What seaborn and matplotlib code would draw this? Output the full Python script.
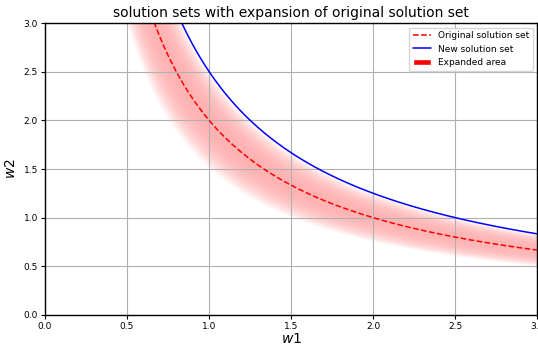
import numpy as np
import matplotlib
matplotlib.use("Agg")
import matplotlib.pyplot as plt
import seaborn as sns
from matplotlib.patches import Patch
from matplotlib.lines import Line2D

# solution sets: w1 * w2 = c
c_original = 2.0
c_new = 2.5
band_low, band_high = 1.5, 2.5   # range of c covered by the expanded area
w1 = np.linspace(0.05, 3.0, 600)

sns.set_style("white")
plt.rcParams['font.family'] = ['DejaVu Sans']
plt.rcParams.update({'text.color': 'black', 'axes.labelcolor': 'black',
                     'xtick.color': 'black', 'ytick.color': 'black'})

fig = plt.figure(figsize=(5.38, 3.46), dpi=100)
ax = fig.add_axes([0.0836, 0.0896, 0.9154, 0.8439])

# expanded area as a faded band (many thin strips)
n_strips = 80
edges = np.linspace(band_low, band_high, n_strips + 1)
half = (band_high - band_low) / 2
for lo, hi in zip(edges[:-1], edges[1:]):
    mid = (lo + hi) / 2
    d = abs(mid - c_original) / half
    a = 0.32 * (1 - d ** 2.5) if d < 1 else 0
    ax.fill_between(w1, lo / w1, hi / w1, color='red', alpha=a, linewidth=0, zorder=1)

sns.lineplot(x=w1, y=c_original / w1, ax=ax, color='red', linestyle='--', linewidth=1.1, zorder=3)
sns.lineplot(x=w1, y=c_new / w1, ax=ax, color='blue', linewidth=1.1, zorder=3)

ax.set_xlim(0, 3)
ax.set_ylim(0, 3)
ax.set_xticks(np.arange(0, 3.01, 0.5))
ax.set_yticks(np.arange(0, 3.01, 0.5))
ax.grid(True, color='#b0b0b0', linewidth=0.8)
ax.set_axisbelow('line')
for s in ax.spines.values():
    s.set_color('black')
    s.set_linewidth(1.0)
    s.set_zorder(4)
ax.tick_params(axis='both', labelsize=6.5, length=3, width=0.8, color='black', pad=2, bottom=True, left=True)

ax.set_xlabel('$w1$', fontsize=10, labelpad=1)
ax.set_ylabel('$w2$', fontsize=10, labelpad=4)
ax.set_title('solution sets with expansion of original solution set', fontsize=10, pad=4)

handles = [
    Line2D([0], [0], color='red', linestyle='--', linewidth=1.1),
    Line2D([0], [0], color='blue', linewidth=1.1),
    Patch(facecolor='red'),
]
ax.legend(handles, ['Original solution set', 'New solution set', 'Expanded area'],
          loc='upper right', fontsize=6.5, frameon=True, framealpha=0.8, edgecolor='#cccccc')

fig.savefig('out.png', dpi=100)
